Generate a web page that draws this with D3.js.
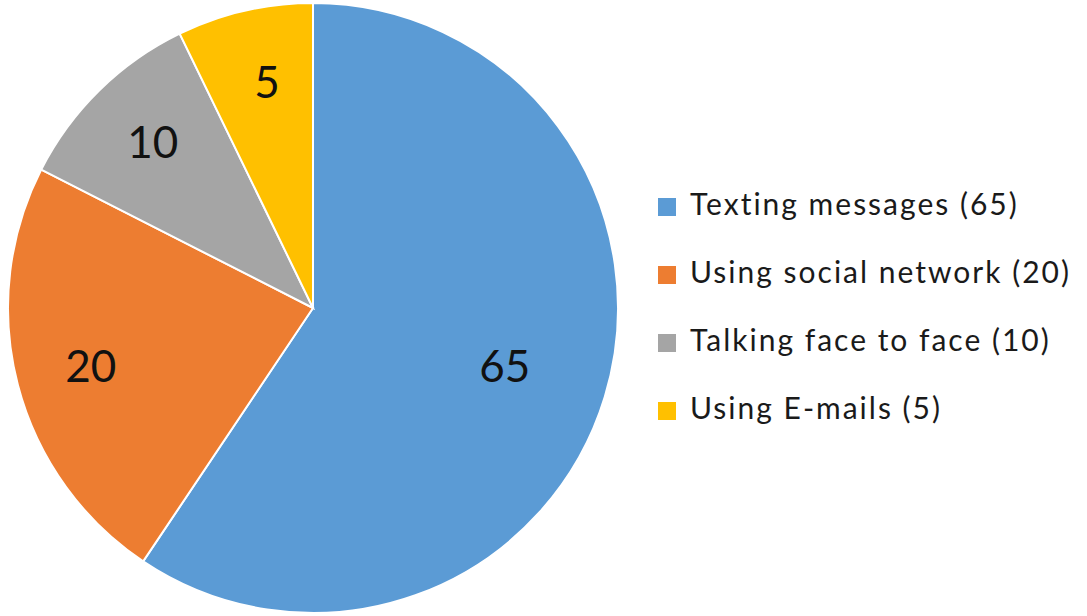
<!DOCTYPE html>
<html>
<head>
<meta charset="utf-8">
<script src="https://cdn.jsdelivr.net/npm/d3@7"></script>
<style>
  body { margin: 0; background: #fff; }
  text { font-family: Lato, "Open Sans", sans-serif; }
</style>
</head>
<body>
<div id="chart"></div>
<script>
// chart data
let categories = ["Texting messages", "Using social network", "Talking face to face", "Using E-mails"];
let values = [65, 20, 10, 5];
// share of the circle each slice actually takes in the picture (%)
let sliceShares = [59.4, 23.1, 10.3, 7.2];
let colors = ["#5B9BD5", "#ED7D31", "#A5A5A5", "#FFC000"];

let svgWidth = 1087;
let svgHeight = 616;
let cx = 313, cy = 308, radius = 305;

var svg = d3.select("#chart")
    .append("svg")
    .attr("width", svgWidth)
    .attr("height", svgHeight);

var pieGroup = svg.append("g")
    .attr("transform", `translate(${cx}, ${cy})`);

var data = categories.map((c, i) => ({ name: c, value: values[i], share: sliceShares[i], color: colors[i] }));

// keep order, start at 12 o'clock going clockwise
var pie = d3.pie()
    .sort(null)
    .value(d => d.share);

var arc = d3.arc()
    .innerRadius(0)
    .outerRadius(radius);

var arcs = pie(data);

pieGroup.selectAll("path")
    .data(arcs)
    .enter()
    .append("path")
    .attr("d", arc)
    .attr("fill", d => d.data.color)
    .attr("stroke", "#fff")
    .attr("stroke-width", 2);

// data labels inside the slices
function labelPos(d) {
    let frac = (d.endAngle - d.startAngle) > Math.PI ? 0.65 : 0.76;
    let a = (d.startAngle + d.endAngle) / 2;
    return [Math.sin(a) * radius * frac, -Math.cos(a) * radius * frac];
}

pieGroup.selectAll("text.label")
    .data(arcs)
    .enter()
    .append("text")
    .attr("class", "label")
    .attr("x", d => labelPos(d)[0] + (d.index == 3 ? 6 : 2))
    .attr("y", d => labelPos(d)[1])
    .attr("dy", "0.36em")
    .attr("text-anchor", "middle")
    .attr("font-size", "44px")
    .attr("fill", "#111")
    .text(d => d.data.value);

// legend
var legend = svg.append("g")
    .attr("transform", "translate(658, 198)");

var legendY = d3.scaleBand()
    .domain(categories)
    .range([0, 272])
    .paddingInner(0);

var rows = legend.selectAll("g")
    .data(data)
    .enter()
    .append("g")
    .attr("transform", d => `translate(0, ${legendY(d.name)})`);

rows.append("rect")
    .attr("width", 18)
    .attr("height", 18)
    .attr("fill", d => d.color);

rows.append("text")
    .attr("x", 32)
    .attr("y", 17)
    .attr("font-size", "30px")
    .attr("letter-spacing", "2px")
    .attr("fill", "#1a1a1a")
    .text(d => `${d.name} (${d.value})`);
</script>
</body>
</html>
